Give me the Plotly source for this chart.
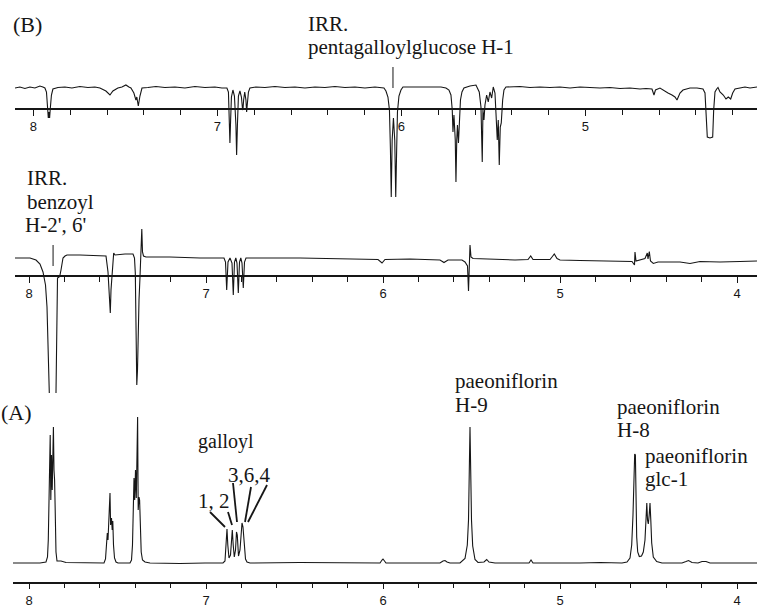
import plotly.graph_objects as go

W, H = 757, 610

# ---------------- data (chemical shift in ppm, relative intensity) ----------------
# (B) upper trace: irradiation of pentagalloylglucose H-1
b1_ppm = [8.100, 8.0734, 8.0462, 8.0190, 7.9918, 7.9647, 7.9484,
          7.9375, 7.929, 7.924, 7.919, 7.916, 7.912, 7.908, 7.902, 7.894,
          7.8668, 7.8288, 7.7908, 7.7473, 7.7038, 7.6658,
          7.6386, 7.606, 7.584, 7.568, 7.541,
          7.5190, 7.4973, 7.4810,
          7.470, 7.454, 7.443, 7.438, 7.430, 7.421, 7.410,
          7.3777, 7.3342, 7.2853, 7.2310, 7.1766, 7.1223, 7.0679, 7.0136, 6.9755,
          6.9484, 6.9402, 6.9348, 6.9321, 6.9283, 6.9239, 6.9158, 6.9076, 6.8995, 6.8957, 6.8913, 6.8859,
          6.8777, 6.8696, 6.8641, 6.8614, 6.8576, 6.8516, 6.8451, 6.8413, 6.8370, 6.8315, 6.8234,
          6.7908, 6.7418, 6.6875, 6.6332, 6.5788, 6.5245, 6.4701, 6.4158, 6.3614, 6.3071, 6.2527, 6.1984, 6.1440,
          6.0951, 6.0842, 6.0734, 6.0652, 6.0598, 6.0554, 6.0505, 6.0435, 6.0364, 6.0310, 6.0261, 6.0217,
          6.0136, 6.0027, 5.9918,
          5.9538, 5.9103, 5.8668, 5.8234, 5.7853,
          5.7582, 5.7418, 5.7310, 5.7239, 5.7201, 5.7147, 5.7076, 5.7038, 5.6995, 5.6957, 5.6902, 5.6848,
          5.6793, 5.6712, 5.6603,
          5.6277, 5.5951,
          5.5772, 5.5679, 5.5609, 5.5571, 5.5516, 5.5462, 5.5370, 5.5283, 5.5190, 5.5098, 5.5011, 5.4918,
          5.4864, 5.4793, 5.4739, 5.4685, 5.4630, 5.4576, 5.4500, 5.4429, 5.4321,
          5.3995, 5.3560, 5.3016, 5.2473, 5.1929, 5.1386, 5.0842, 5.0299, 4.9755, 4.9212, 4.8668, 4.8125,
          4.7582, 4.7038, 4.6712,
          4.6386, 4.6277, 4.6196, 4.5951,
          4.5788, 4.5516, 4.5299, 4.5136, 4.5027, 4.4973, 4.4864, 4.4701, 4.4321,
          4.3940, 4.3777,
          4.3614, 4.3505, 4.3451, 4.3380, 4.3234, 4.3087, 4.3033, 4.2962, 4.2870,
          4.2799,
          4.2690, 4.2511, 4.2364, 4.2239, 4.2109, 4.2000, 4.1875, 4.1603,
          4.1332, 4.1060, 4.0679]
b1_int = [0, 1, -0.5, 1, 0, 2, 1,
          0, -4, -22, -30, -24, -30, -20, -7, -1,
          0.5, 1, 0, 1.5, 0.5, 1,
          0, -3, -7, -3, 0,
          1, 3, 1,
          0, -5, -12, -9, -18, -8, 0,
          0.5, 1.5, 0.5, 1, 0, 1.5, 0.5, 1, 0,
          0, -4, -32, -55, -32, -9, -2, -8, -37, -67, -37, -8,
          -3, -9, -20, -22, -12, -4, -12, -24, -15, -4, 0,
          1, 0.5, 1.5, 0.5, 1, 0, 1, 0.5, 1.5, 0.5, 1, 0, 1,
          0, -3, -9, -22, -62, -109, -52, -30, -52, -109, -62, -24,
          -8, -2, 1,
          1, 0.5, 1, 0.5, 1,
          0, -2, -7, -22, -44, -27, -52, -94, -52, -37, -55, -32,
          -12, -4, 0,
          2, 3,
          -4, -19, -74, -22, -32, -17, -7, -14, -4, -10, 1, -5,
          -25, -52, -32, -77, -39, -35, -12, -2, 1,
          1, 1.5, 0.5, 1, 0.5, 1, 0, 1, 0.5, 0, 0.5, -0.5,
          0, -1, -0.5,
          -1, -7, -2, 0,
          -2, -5, -7, -9, -12, -9, -5, -2, 0,
          0, -0.5,
          -1, -5, -22, -49, -50, -49, -22, -4, -1,
          0.5,
          -4, -7, -11, -9, -11, -5, -1, 0,
          1, 0, 1]
b1_irr_ppm = 6.046

# (B) lower trace: irradiation of benzoyl H-2', 6'
b2_ppm = [8.0791, 7.9944, 7.9605, 7.9379, 7.9209, 7.9068, 7.8983, 7.8898, 7.8853,
          7.8701,
          7.8475, 7.8435, 7.8418, 7.8390, 7.8305, 7.8249, 7.8192, 7.8136, 7.8079, 7.7966, 7.7853,
          7.7119, 7.6271,
          7.5650, 7.5537, 7.5452, 7.5407, 7.5367, 7.5311, 7.5254, 7.5215, 7.5141,
          7.4576, 7.4124,
          7.4040, 7.3994, 7.3955, 7.3910, 7.3870, 7.3842, 7.3785, 7.3729, 7.3689, 7.3655, 7.3627,
          7.3588, 7.3531, 7.3390,
          7.2034, 7.0339,
          6.8983, 6.8898, 6.8831, 6.8757, 6.8644, 6.8531, 6.8458, 6.8390, 6.8316, 6.8249, 6.8175,
          6.8107, 6.8034, 6.7966, 6.7893, 6.7825, 6.7740,
          6.4689, 6.1864, 6.0282, 6.0056, 5.9887, 5.8475, 5.6780, 5.6554, 5.6328,
          5.5537, 5.5367, 5.5226, 5.5169, 5.5085, 5.5028, 5.4915,
          5.3390, 5.2542,
          5.1808, 5.1655, 5.1525,
          5.0565, 5.0452, 5.0322, 5.0169, 5.0000,
          4.8870, 4.7740, 4.6723,
          4.5932, 4.5791, 4.5763, 4.5706, 4.5480, 4.5198, 4.5068, 4.5028, 4.4955, 4.4887, 4.4729, 4.4463,
          4.3220, 4.2655, 4.2090, 4.0960, 3.9831, 3.8870]
b2_int = [-1, -1, -3, -7, -15, -28, -50, -103, -136,
          None,
          -136, -73, -28, -21, -20, -18, -13, -8, -1, 1, 2,
          2, 1.5,
          1, -15, -43, -56, -33, -16, -5, 4, 2,
          3, 3,
          -1, -16, -86, -128, -113, -83, -43, -20, -3, 22, 28,
          5, 1, 0,
          0, -1,
          -1, -5, -33, -5, -1, -6, -38, -5, -1, -6, -36,
          -5, -1, -6, -31, -5, -1,
          -1, -1.5, -2.5, -6, -2.5, -2, -3, -5.5, -3,
          -3, -5, -9, -34, 12, 0, -1.5,
          -2.5, -3,
          -2.5, 1, -2.5,
          -2.5, 0, 3, -1.5, -3,
          -3.5, -4, -4.5,
          -4.5, -8, 5, -4, -3, -1.5, 4, -2, 5.5, -4, -6.5, -5,
          -5, -6.5, -4.5, -5, -4.5, -4]
b2_irr_ppm = 7.864

# (A) normal spectrum
a_ppm = [8.0904, 7.9944, 7.9379,
         7.9040, 7.8955, 7.8910, 7.8881, 7.8842, 7.8802, 7.8768, 7.8729, 7.8689, 7.8644, 7.8621, 7.8588,
         7.8554, 7.8520, 7.8475, 7.8418, 7.8192, 7.7910, 7.6554,
         7.5763, 7.5678, 7.5621, 7.5576, 7.5537, 7.5492, 7.5452, 7.5424, 7.5390, 7.5339, 7.5299, 7.5266,
         7.5226, 7.5169, 7.5085, 7.4972,
         7.4294, 7.4209, 7.4153, 7.4107, 7.4068, 7.4028, 7.3983, 7.3938, 7.3893, 7.3864, 7.3831, 7.3785,
         7.3751, 7.3712, 7.3661, 7.3588, 7.3446, 7.3164,
         7.1469, 7.0056,
         6.9040, 6.8927, 6.8859, 6.8814, 6.8768, 6.8701, 6.8616, 6.8559, 6.8514, 6.8463, 6.8401, 6.8333,
         6.8277, 6.8232, 6.8164, 6.8079, 6.8011, 6.7966, 6.7910, 6.7853, 6.7768, 6.7684, 6.7514,
         6.4689, 6.1864,
         6.0169, 6.0056, 6.0000, 5.9915, 5.9831,
         5.8192,
         5.6780, 5.6610, 5.6497, 5.6384, 5.6215,
         5.5650, 5.5367, 5.5237, 5.5169, 5.5124, 5.5085, 5.5045, 5.5000, 5.4932, 5.4802, 5.4633, 5.4294,
         5.4141, 5.4011, 5.3672,
         5.1751, 5.1638, 5.1525,
         4.8870, 4.7740,
         4.6497, 4.6215, 4.6045, 4.5949, 4.5876, 4.5819, 4.5780, 4.5740, 4.5706, 4.5667, 4.5610, 4.5520,
         4.5395, 4.5294, 4.5198, 4.5141, 4.5096, 4.5056, 4.5011, 4.4960, 4.4915, 4.4870, 4.4819, 4.4729,
         4.4537, 4.4237,
         4.3107, 4.2881, 4.2740, 4.2542,
         4.2203, 4.1977, 4.1751, 4.1525,
         3.8870]
a_int = [0, 0, 0,
         1, 6, 23, 68, 123, 128, 63, 108, 73, 128, 136, 93,
         83, 53, 11, 2, 2, 0.5, 0,
         0, 4, 18, 30, 23, 43, 63, 70, 38, 45, 33, 42,
         18, 5, 1, 0,
         0, 3, 18, 63, 85, 63, 93, 65, 145, 146, 53, 66,
         63, 33, 11, 3, 1, 0,
         -0.5, 0,
         0, 2, 18, 34, 18, 5, 8, 28, 33, 18, 6, 13,
         31, 28, 7, 13, 33, 40, 36, 18, 4, 1, 0,
         0.5, 0,
         0, 3, 4, 2, 0,
         0,
         0, 2, 2.5, 1, 0,
         0, 4.5, 18, 43, 93, 136, 93, 43, 17, 3.5, 0.5, 1,
         3.5, 1, 0,
         0, 3, 0,
         0, 0.5,
         0, 1, 5, 18, 48, 93, 109, 108, 66, 26, 11, 6.5,
         7, 11, 23, 48, 60, 43, 39, 48, 60, 43, 20, 6,
         1.5, 0,
         0, 1.5, 2.5, 0.5,
         0, 1.5, 1.5, 0,
         0]

major_ticks = [8, 7, 6, 5, 4]
tick_labels = ["8", "7", "6", "5", "4"]

assert len(b1_ppm) == len(b1_int)
assert len(b2_ppm) == len(b2_int)
assert len(a_ppm) == len(a_int)

# ---------------- layout helpers (pixel -> paper) ----------------
def px(x):
    return x / W


def py(y):
    return 1 - y / H


INK = "#161616"
SERIF = "Liberation Serif, Times New Roman, serif"
SANS = "Liberation Sans, Arial, sans-serif"

fig = go.Figure()

line_style = dict(color=INK, width=1.1)
fig.add_trace(go.Scatter(x=b1_ppm, y=b1_int, mode="lines", line=line_style,
                         xaxis="x", yaxis="y", hoverinfo="skip", showlegend=False))
fig.add_trace(go.Scatter(x=b2_ppm, y=b2_int, mode="lines", line=line_style, connectgaps=False,
                         xaxis="x2", yaxis="y2", hoverinfo="skip", showlegend=False))
fig.add_trace(go.Scatter(x=a_ppm, y=a_int, mode="lines", line=line_style,
                         xaxis="x3", yaxis="y3", hoverinfo="skip", showlegend=False))
# irradiation position markers
fig.add_trace(go.Scatter(x=[b1_irr_ppm, b1_irr_ppm], y=[21, 0], mode="lines",
                         line=dict(color=INK, width=1), xaxis="x", yaxis="y",
                         hoverinfo="skip", showlegend=False))
fig.add_trace(go.Scatter(x=[b2_irr_ppm, b2_irr_ppm], y=[12, -9], mode="lines",
                         line=dict(color=INK, width=1), xaxis="x2", yaxis="y2",
                         hoverinfo="skip", showlegend=False))


def xaxis_cfg(left_px, rng, axis_px):
    return dict(
        domain=[px(left_px), 1], range=rng, anchor="free", position=py(axis_px),
        showline=True, linecolor=INK, linewidth=1.6, showgrid=False, zeroline=False,
        tickmode="array", tickvals=major_ticks, ticktext=tick_labels,
        ticks="outside", ticklen=6, tickwidth=1.2, tickcolor=INK,
        tickfont=dict(family=SANS, size=13, color=INK),
        minor=dict(dtick=0.2, tick0=0, ticks="outside", ticklen=5, tickwidth=1,
                   tickcolor=INK, showgrid=False),
        fixedrange=True,
    )


def yaxis_cfg(base_px):
    return dict(domain=[0, 1], range=[base_px - H, base_px], visible=False,
                anchor="free", position=0, fixedrange=True)


fig.update_layout(
    width=W, height=H, margin=dict(l=0, r=0, t=0, b=0),
    paper_bgcolor="white", plot_bgcolor="rgba(0,0,0,0)",
    xaxis=xaxis_cfg(15, [8.100, 4.0679], 109),
    xaxis2=xaxis_cfg(15, [8.0791, 3.8870], 276),
    xaxis3=xaxis_cfg(13, [8.0904, 3.8870], 582.5),
    yaxis=yaxis_cfg(88),
    yaxis2=yaxis_cfg(257),
    yaxis3=yaxis_cfg(563),
)

# text labels: (text, left px, baseline px, font size)
FS = 21
labels = [
    ("(B)", 13, 32, 22),
    ("IRR.", 308, 31, FS),
    ("pentagalloylglucose H-1", 308, 54.5, FS),
    ("IRR.", 27, 185.5, FS),
    ("benzoyl", 27, 209, FS),
    ("H-2', 6'", 25, 232.5, FS),
    ("(A)", 1, 420, 22),
    ("galloyl", 198, 448, 20),
    ("3,6,4", 228, 482, FS),
    ("1, 2", 198, 508, FS),
    ("paeoniflorin", 455, 388.5, FS),
    ("H-9", 455, 412, FS),
    ("paeoniflorin", 617, 414, FS),
    ("H-8", 617, 437.5, FS),
    ("paeoniflorin", 645, 463, FS),
    ("glc-1", 645, 486.5, FS),
]
for text, xl, base, size in labels:
    fig.add_annotation(
        text=text, xref="paper", yref="paper", x=px(xl), y=py(base - 0.3375 * size),
        xanchor="left", yanchor="middle", showarrow=False,
        borderpad=0, borderwidth=0,
        font=dict(family=SERIF, size=size, color=INK),
    )

# leader lines for the galloyl signals (pixel endpoints)
leaders = [((210, 512), (225, 527)), ((228, 512), (232, 525)),
           ((233, 483), (237, 522)), ((251, 487), (245, 522)),
           ((267, 485), (248, 522))]
for (x0, y0), (x1, y1) in leaders:
    fig.add_shape(type="line", xref="paper", yref="paper",
                  x0=px(x0), y0=py(y0), x1=px(x1), y1=py(y1),
                  line=dict(color=INK, width=1.8))

fig.write_html("out.html")
